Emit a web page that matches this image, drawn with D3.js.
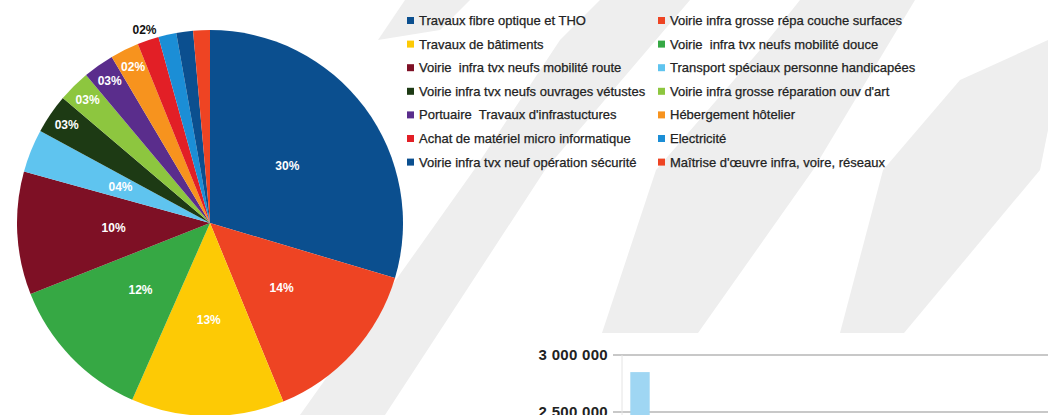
<!DOCTYPE html>
<meta charset="utf-8">
<title>Répartition des marchés</title>
<style>
html, body {
  margin: 0;
  padding: 0;
  overflow: hidden;
  background: #fff;
}
svg {
  display: block;
  font-family: "Liberation Sans", Arial, sans-serif;
}
.legend text {
  font-size: 13px;
  fill: #222;
  stroke: #222;
  stroke-width: 0.25px;
  white-space: pre;
}
.slice-label {
  font-size: 12px;
  font-weight: bold;
  text-anchor: middle;
}
.axis text {
  font-size: 15px;
  font-weight: bold;
  fill: #222;
}
</style>
<svg width="1048" height="415"></svg>
<script src="https://d3js.org/d3.v7.min.js"></script>
<script>

// pie categories, in the order they are drawn (clockwise from the top)
var categories = [
  "Travaux fibre optique et THO",
  "Voirie infra grosse répa couche surfaces",
  "Travaux de bâtiments",
  "Voirie  infra tvx neufs mobilité douce",
  "Voirie  infra tvx neufs mobilité route",
  "Transport spéciaux personne handicapées",
  "Voirie infra tvx neufs ouvrages vétustes",
  "Voirie infra grosse réparation ouv d'art",
  "Portuaire  Travaux d'infrastuctures",
  "Hébergement hôtelier",
  "Achat de matériel micro informatique",
  "Electricité",
  "Voirie infra tvx neuf opération sécurité",
  "Maîtrise d'œuvre infra, voire, réseaux"
];

// share of each category in %
var shares = [29.6, 14.2, 12.8, 12.4, 10.3, 3.6, 3.3, 2.7, 2.6, 2.4, 1.8, 1.5, 1.4, 1.4];

var colors = [
  "#0b4f8f", "#ee4423", "#fdca05", "#36a844", "#7e1025", "#5fc4ef", "#1d3a14",
  "#8dc63f", "#5a2d8c", "#f7931e", "#e21f26", "#1b8ed6", "#0b4f8f", "#ee4423"
];

// small bar chart in the lower right corner (only the top of it is visible)
var barCats = ["Transport spéciaux personne handicapées"];
var barValues = [2850000];
var barTicks = [2500000, 3000000];

var svg = d3.select("svg"),
    width = +svg.attr("width"),
    height = +svg.attr("height");

// background brush strokes
var strokes = [
  [[300, 415], [474, 170], [560, 40], [600, 0], [690, 0], [545, 170], [385, 415]],
  [[602, 333], [656, 170], [760, 50], [800, 0], [915, 0], [813, 170], [698, 333]],
  [[840, 333], [883, 170], [960, 80], [1048, 40], [1048, 130], [1040, 170], [904, 333]],
  [[378, 40], [405, 0], [470, 0], [440, 30]]
];
svg.append("g").selectAll("path")
  .data(strokes)
  .enter().append("path")
    .attr("d", function(d) { return "M" + d.join("L") + "Z"; })
    .style("fill", "#eeeeee");

// pie
var cx = 210, cy = 223, radius = 193;

var pie = d3.pie().sort(null).value(function(d) { return d; });
var arcs = pie(shares);
var total = d3.sum(shares);

var arc = d3.arc().innerRadius(0).outerRadius(radius);

var gPie = svg.append("g").attr("transform", "translate(" + cx + "," + cy + ")");

gPie.selectAll("path")
  .data(arcs)
  .enter().append("path")
    .attr("d", arc)
    .style("fill", function(d, i) { return colors[i]; });

// label radius depends on slice size (best fit like the spreadsheet does)
function labelRadius(p) {
  if (p >= 3.5) return radius * 0.5;
  if (p >= 2) return radius * 0.9;
  return radius + 11;
}

var fmtPct = function(p) { return d3.format("02d")(Math.round(p)) + "%"; };

gPie.selectAll("text")
  .data(arcs.filter(function(d) { return d.value / total * 100 >= 1.75; }))
  .enter().append("text")
    .attr("class", "slice-label")
    .attr("transform", function(d) {
      var p = d.value / total * 100,
          r = labelRadius(p),
          a = (d.startAngle + d.endAngle) / 2;
      return "translate(" + (Math.sin(a) * r) + "," + (-Math.cos(a) * r) + ")";
    })
    .attr("dy", "0.35em")
    .style("fill", function(d) { return d.value / total * 100 >= 2 ? "#fff" : "#111"; })
    .text(function(d) { return fmtPct(d.value / total * 100); });

// legend: two columns, filled row by row
var legend = svg.append("g").attr("class", "legend");
var colX = [407, 658], rowY0 = 20.5, rowH = 23.6;

var item = legend.selectAll("g")
  .data(categories)
  .enter().append("g")
    .attr("transform", function(d, i) {
      return "translate(" + colX[i % 2] + "," + (rowY0 + Math.floor(i / 2) * rowH) + ")";
    });

item.append("rect")
    .attr("x", 0)
    .attr("y", -3.5)
    .attr("width", 7)
    .attr("height", 7)
    .style("fill", function(d, i) { return colors[i]; });

item.append("text")
    .attr("x", 12)
    .attr("dy", "0.35em")
    .text(function(d) { return d; });

// bar chart panel
svg.append("rect")
    .attr("x", 594).attr("y", 333)
    .attr("width", width - 594).attr("height", height - 333)
    .style("fill", "#fff");

var y = d3.scaleLinear().domain([0, 3000000]).range([697, 355]);
var x = d3.scaleBand().domain(barCats).range([622, 658]).padding(0.3);

var gBar = svg.append("g");

gBar.selectAll("line.grid")
  .data(barTicks)
  .enter().append("line")
    .attr("class", "grid")
    .attr("x1", 613).attr("x2", width)
    .attr("y1", function(d) { return y(d); })
    .attr("y2", function(d) { return y(d); })
    .style("stroke", "#c8c8c8")
    .style("stroke-width", 2);

gBar.append("line")
    .attr("x1", 622).attr("x2", 622)
    .attr("y1", y(3000000)).attr("y2", height)
    .style("stroke", "#e4e4e4");

gBar.selectAll("rect")
  .data(barValues)
  .enter().append("rect")
    .attr("x", function(d, i) { return x(barCats[i]); })
    .attr("y", function(d) { return y(d); })
    .attr("width", x.bandwidth())
    .attr("height", function(d) { return y(0) - y(d); })
    .style("fill", "#9fd6f3");

var fr = d3.formatLocale({decimal: ",", thousands: " ", grouping: [3], currency: ["", " €"]});

var yAxis = d3.axisLeft(y)
    .tickValues(barTicks)
    .tickFormat(fr.format(",d"))
    .tickSize(0)
    .tickPadding(3);

svg.append("g")
    .attr("class", "axis")
    .attr("transform", "translate(611,0)")
    .call(yAxis)
    .call(function(g) { g.select(".domain").remove(); })
    .selectAll("text")
    .style("letter-spacing", "0.3px");

</script>
